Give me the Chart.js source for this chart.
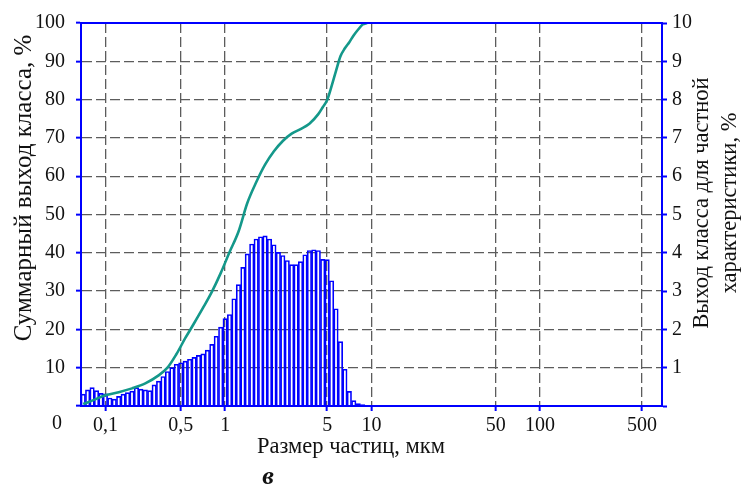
<!DOCTYPE html>
<html lang="ru">
<head>
<meta charset="utf-8">
<title>Гранулометрический состав</title>
<script src="https://cdn.jsdelivr.net/npm/chart.js@4.4.1/dist/chart.umd.min.js"></script>
<style>
  html, body { margin: 0; padding: 0; background: #fff; }
</style>
</head>
<body>
<canvas id="psd" width="746" height="493"></canvas>
<script>
// analyser size classes, numbered 1..131 (equal width on the axis)
const channels = Array.from({ length: 131 }, (_, i) => i + 1);

// class number -> particle size shown under it, µm
const sizeTicks = { 6: '0,1', 23: '0,5', 33: '1', 56: '5', 66: '10', 94: '50', 104: '100', 127: '500' };

// partial yield per class, % (classes 1..65, nothing above)
const partialYield = [
  0.31, 0.42, 0.48, 0.40, 0.33, 0.32, 0.21, 0.18, 0.25, 0.31,
  0.35, 0.39, 0.48, 0.44, 0.42, 0.40, 0.55, 0.65, 0.77, 0.90,
  1.00, 1.09, 1.13, 1.17, 1.22, 1.27, 1.32, 1.36, 1.46, 1.61,
  1.82, 2.06, 2.28, 2.39, 2.80, 3.17, 3.62, 3.97, 4.23, 4.36,
  4.42, 4.44, 4.36, 4.21, 4.01, 3.93, 3.80, 3.69, 3.69, 3.77,
  3.95, 4.06, 4.08, 4.06, 3.83, 3.82, 3.27, 2.54, 1.68, 0.96,
  0.38, 0.14, 0.06, 0.04, 0.02
];

// cumulative yield, %
const cumChannels = [1, 3, 6, 9, 12, 15, 18, 20, 22, 24, 26, 28, 30, 32, 34, 36, 38, 40,
  42, 44, 46, 48, 50, 52, 54, 55, 56, 57, 58, 59, 60, 61, 62, 63, 64, 65];
const cumYield = [0.5, 1.4, 2.8, 3.6, 4.6, 5.9, 8.0, 10.0, 13.5, 17.7, 21.6, 25.6, 29.8, 34.7, 40.2, 45.5, 53.0, 58.4,
  63.0, 66.5, 69.2, 71.1, 72.3, 73.7, 76.2, 78.0, 79.9, 83.5, 87.5, 91.3, 93.4, 95.0, 96.8, 98.3, 99.6, 100];

const BLUE = '#0000ff';
const GRID = '#5c5c5c';
const TEAL = '#14988a';
const FONT = '"Liberation Serif", "Times New Roman", serif';

Chart.defaults.font.family = FONT;
Chart.defaults.font.size = 20;
Chart.defaults.color = '#111';

const isSizeTick = i => sizeTicks[channels[i]] !== undefined;

// axis captions and the plot frame
const captions = {
  id: 'captions',
  afterDatasetsDraw(chart) {
    const { ctx, chartArea: a } = chart;
    ctx.save();
    ctx.strokeStyle = BLUE;
    ctx.lineWidth = 2;
    ctx.strokeRect(a.left, a.top, a.right - a.left, a.bottom - a.top);
    ctx.restore();
  },
  afterDraw(chart) {
    const { ctx } = chart;
    ctx.save();
    ctx.fillStyle = '#111';
    ctx.textAlign = 'center';
    ctx.textBaseline = 'middle';

    ctx.font = '20px ' + FONT;
    ctx.fillText('0', 57, 424);

    ctx.font = '22.5px ' + FONT;
    ctx.fillText('Размер частиц, мкм', 351, 447);

    ctx.save();
    ctx.translate(702, 203);
    ctx.rotate(-Math.PI / 2);
    ctx.fillText('Выход класса для частной', 0, 0);
    ctx.fillText('характеристики, %', 0, 28);
    ctx.restore();

    ctx.save();
    ctx.font = '25px ' + FONT;
    ctx.translate(24, 188);
    ctx.rotate(-Math.PI / 2);
    ctx.fillText('Суммарный выход класса, %', 0, 0);
    ctx.restore();

    ctx.font = 'italic bold 26px ' + FONT;
    ctx.fillText('в', 268, 477);
    ctx.restore();
  }
};

new Chart(document.getElementById('psd'), {
  data: {
    labels: channels,
    datasets: [
      {
        type: 'line',
        data: cumChannels.map((c, i) => ({ x: c, y: cumYield[i] })),
        yAxisID: 'y',
        borderColor: TEAL,
        borderWidth: 2.6,
        pointRadius: 0,
        cubicInterpolationMode: 'monotone',
        order: 1
      },
      {
        type: 'bar',
        data: partialYield,
        yAxisID: 'y1',
        backgroundColor: 'transparent',
        borderColor: BLUE,
        borderWidth: 1,
        barPercentage: 1,
        categoryPercentage: 1,
        order: 2
      }
    ]
  },
  options: {
    responsive: false,
    animation: false,
    layout: { padding: { top: 22 } },
    plugins: { legend: { display: false }, tooltip: { enabled: false } },
    scales: {
      x: {
        type: 'category',
        offset: true,
        grid: {
          offset: false,
          color: ctx => (isSizeTick(ctx.index) ? GRID : 'transparent'),
          lineWidth: 1.3,
          tickColor: ctx => (isSizeTick(ctx.index) ? BLUE : 'transparent'),
          tickLength: 5,
          tickWidth: 2
        },
        border: { color: BLUE, width: 2, dash: [10, 4] },
        ticks: {
          autoSkip: false,
          maxRotation: 0,
          minRotation: 0,
          padding: 3,
          callback: (v, i) => sizeTicks[channels[i]] || ''
        },
        afterFit: s => { s.height = 87; }
      },
      y: {
        position: 'left',
        min: 0,
        max: 100,
        ticks: { stepSize: 10, padding: 11, callback: v => (v === 0 ? '' : v) },
        grid: {
          color: ctx => (ctx.tick && ctx.tick.value === 0 ? 'transparent' : GRID),
          lineWidth: 1.3,
          tickColor: BLUE,
          tickLength: 5,
          tickWidth: 2
        },
        border: { color: BLUE, width: 2, dash: [10, 4] },
        afterFit: s => { s.width = 81; }
      },
      y1: {
        position: 'right',
        min: 0,
        max: 10,
        ticks: { stepSize: 1, padding: 5, callback: v => (v === 0 ? '' : v) },
        grid: { drawOnChartArea: false, tickColor: BLUE, tickLength: 5, tickWidth: 2 },
        border: { color: BLUE, width: 2 },
        afterFit: s => { s.width = 84; }
      }
    }
  },
  plugins: [captions]
});
</script>
</body>
</html>
